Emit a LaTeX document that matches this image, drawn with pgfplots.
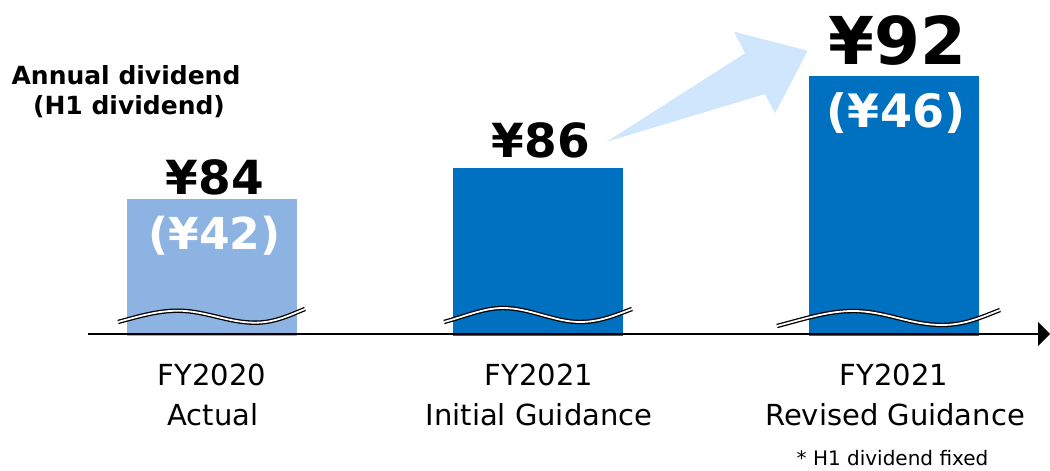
\documentclass[border=0pt]{standalone}
\usepackage{fontspec}
\setmainfont{DejaVu Sans}
\usepackage{pgfplots}
\pgfplotsset{compat=1.18}
\usetikzlibrary{arrows.meta}
\definecolor{barlight}{RGB}{141,179,226}
\definecolor{bardark}{RGB}{0,112,192}
\definecolor{arrowblue}{RGB}{207,230,252}
\begin{document}
\begin{tikzpicture}
\begin{axis}[at={(0pt,0pt)}, anchor=south west, scale only axis,
  width=1050pt, height=336pt, xmin=0, xmax=1050, ymin=75.07, ymax=96.917,
  hide axis, ybar, bar width=170pt]
\addplot[fill=barlight, draw=none, bar shift=0pt] coordinates {(212,84)};
\addplot[fill=bardark, draw=none, bar shift=0pt] coordinates {(537.7,86)};
\addplot[fill=bardark, draw=none, bar shift=0pt] coordinates {(893.5,92)};
\end{axis}
\begin{scope}[x=1pt, y=-1pt, shift={(0pt,336pt)}]
% growth arrow
\fill[arrowblue] (606.7,141.7) -- (745,53.3) -- (734,31.7) -- (807.7,50.7) -- (775,113.3) -- (765,94) -- cycle;
% axis line
\draw[line width=2.2pt, -{Triangle[length=12pt,width=24pt]}] (88,334) -- (1050,334);
% break marks
\tikzset{brk/.style={line width=1.3pt, double=white, double distance=1.8pt}}
\draw[brk]
  (118,322) .. controls (140,316) and (158,310.7) .. (178,310.7)
  .. controls (205,310.7) and (228,322.7) .. (255,322.7)
  .. controls (275,322.7) and (290,315) .. (305,309);
\draw[brk]
  (444,322) .. controls (466,316) and (484,308) .. (503,308)
  .. controls (530,308) and (554,322) .. (580,322)
  .. controls (600,322) and (616,315) .. (632,309);
\draw[brk]
  (777,326) .. controls (804,319) and (828,311) .. (853,311)
  .. controls (885,311) and (910,325) .. (942,325)
  .. controls (965,325) and (982,317) .. (1000,310);
% value labels
\node[anchor=base, inner sep=0pt, font=\bfseries\fontsize{47}{47}\selectfont] at (215,195) {¥84};
\node[anchor=base, inner sep=0pt, text=white, font=\bfseries\fontsize{44}{44}\selectfont] at (214.5,250) {(¥42)};
\node[anchor=base, inner sep=0pt, font=\bfseries\fontsize{47}{47}\selectfont] at (541,158) {¥86};
\node[anchor=base, inner sep=0pt, font=\bfseries\fontsize{66}{66}\selectfont] at (897.5,65) {¥92};
\node[anchor=base, inner sep=0pt, text=white, font=\bfseries\fontsize{46}{46}\selectfont] at (896,128) {(¥46)};
% title
\node[anchor=base, inner sep=0pt, font=\bfseries\fontsize{25}{25}\selectfont] at (126,84.5) {Annual dividend};
\node[anchor=base, inner sep=0pt, font=\bfseries\fontsize{25}{25}\selectfont] at (129,115) {(H1 dividend)};
% category labels
\node[anchor=base, inner sep=0pt, font=\fontsize{29}{29}\selectfont] at (212,385) {FY2020};
\node[anchor=base, inner sep=0pt, font=\fontsize{29}{29}\selectfont] at (213,425) {Actual};
\node[anchor=base, inner sep=0pt, font=\fontsize{29}{29}\selectfont] at (539,385) {FY2021};
\node[anchor=base, inner sep=0pt, font=\fontsize{29}{29}\selectfont] at (539,425) {Initial Guidance};
\node[anchor=base, inner sep=0pt, font=\fontsize{29}{29}\selectfont] at (894,385) {FY2021};
\node[anchor=base, inner sep=0pt, font=\fontsize{29}{29}\selectfont] at (895,425) {Revised Guidance};
% footnote
\node[anchor=base, inner sep=0pt, font=\fontsize{20}{20}\selectfont] at (892.5,465) {* H1 dividend fixed};
\end{scope}
\pgfresetboundingbox
\useasboundingbox (0pt,-135pt) rectangle (1050pt,336pt);
\end{tikzpicture}
\end{document}
